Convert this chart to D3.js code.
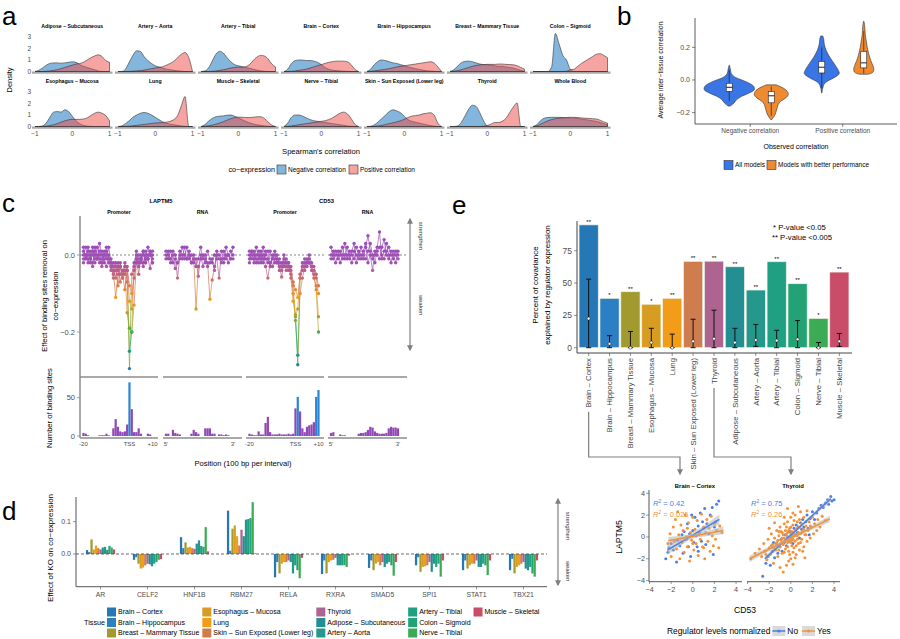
<!DOCTYPE html>
<html><head><meta charset="utf-8">
<script src="https://cdn.jsdelivr.net/npm/d3@7"></script>
<style>body{margin:0;background:#fff}svg{display:block}text{font-family:"Liberation Sans",Arial,Helvetica,sans-serif}</style>
</head><body><svg id="fig" width="900" height="639"></svg>
<script>
// ================= DATA =================
// Panel a: densities of Spearman's correlation
const aTissues = ["Adipose – Subcutaneous","Artery – Aorta","Artery – Tibial","Brain – Cortex","Brain – Hippocampus","Breast – Mammary Tissue","Colon – Sigmoid","Esophagus – Mucosa","Lung","Muscle – Skeletal","Nerve – Tibial","Skin – Sun Exposed (Lower leg)","Thyroid","Whole Blood"];
const densityGrid = [-1,-0.9,-0.8,-0.7,-0.6,-0.5,-0.4,-0.3,-0.2,-0.1,0,0.1,0.2,0.3,0.4,0.5,0.6,0.7,0.8,0.9,1];
const negDensity = [
 [0,0.1,0.3,0.55,0.7,0.75,0.75,0.72,0.75,0.8,0.85,0.8,0.6,0.45,0.35,0.25,0.15,0.05,0,0,0],
 [0,0,0.2,0.8,1.4,1.8,1.75,1.3,0.95,0.7,0.5,0.4,0.3,0.2,0.15,0.1,0.06,0.03,0,0,0],
 [0,0.05,0.3,0.9,1.5,1.75,1.6,1.2,0.85,0.6,0.5,0.42,0.35,0.28,0.2,0.12,0.06,0.02,0,0,0],
 [0,0.2,0.7,0.95,1.0,1.0,0.95,0.95,0.9,0.8,0.6,0.35,0.2,0.12,0.08,0.05,0.03,0.01,0,0,0],
 [0,0.2,0.6,0.9,1.0,0.95,0.85,0.75,0.7,0.6,0.5,0.4,0.32,0.25,0.18,0.12,0.07,0.04,0.02,0,0],
 [0,0.15,0.45,0.75,0.88,0.9,0.85,0.75,0.65,0.6,0.58,0.55,0.5,0.45,0.45,0.4,0.35,0.3,0.2,0.1,0],
 [0,0,0,0,0,0.4,3.3,2.4,1.4,1.0,0.2,0,0,0,0,0,0,0,0,0,0],
 [0,0,0.05,0.3,0.8,1.25,1.3,1.25,1.45,1.3,0.9,0.5,0.25,0.1,0.04,0.01,0,0,0,0,0],
 [0,0.05,0.25,0.5,0.8,1.0,1.15,1.22,1.15,1.0,0.8,0.6,0.4,0.28,0.2,0.15,0.1,0.05,0.02,0,0],
 [0,0.15,0.45,0.7,0.85,0.9,0.92,0.98,1.0,0.9,0.75,0.6,0.45,0.32,0.22,0.15,0.1,0.05,0.02,0,0],
 [0,0.3,0.8,1.0,1.0,0.9,0.75,0.6,0.5,0.45,0.4,0.35,0.3,0.25,0.2,0.15,0.1,0.05,0.02,0,0],
 [0,0.02,0.15,0.4,0.7,1.0,1.3,1.45,1.35,1.2,0.9,0.6,0.45,0.38,0.3,0.22,0.15,0.08,0.03,0,0],
 [0,0,0.05,0.35,0.9,1.5,1.85,1.75,1.2,0.5,0.05,0,0,0,0,0,0,0,0,0,0],
 [0,0.15,0.5,0.72,0.78,0.8,0.8,0.8,0.78,0.75,0.75,0.72,0.7,0.65,0.6,0.55,0.5,0.45,0.35,0.25,0.15]
];
const posDensity = [
 [0,0,0,0.02,0.05,0.1,0.15,0.25,0.35,0.45,0.55,0.65,0.7,0.8,1.0,1.2,1.35,1.45,1.3,0.95,0.8],
 [0,0,0,0.01,0.03,0.05,0.08,0.12,0.18,0.25,0.3,0.35,0.42,0.55,0.7,0.9,1.2,1.5,1.65,1.2,0],
 [0,0,0,0.02,0.05,0.1,0.15,0.22,0.3,0.35,0.38,0.38,0.42,0.6,0.95,1.25,1.4,1.35,1.1,0.65,0.4],
 [0,0,0.02,0.05,0.1,0.15,0.2,0.3,0.4,0.5,0.6,0.7,0.8,0.85,0.9,0.9,0.9,0.85,0.6,0.2,0],
 [0,0.02,0.06,0.1,0.15,0.2,0.25,0.32,0.4,0.45,0.5,0.55,0.6,0.65,0.7,0.75,0.8,0.85,0.75,0.4,0],
 [0,0.02,0.08,0.15,0.25,0.35,0.45,0.52,0.58,0.6,0.62,0.62,0.62,0.65,0.65,0.62,0.6,0.58,0.5,0.35,0.2],
 [0,0,0,0,0,0,0,0,0,0.02,0.15,0.2,0.45,0.7,0.9,1.1,1.3,1.5,1.55,1.4,1.2],
 [0,0,0.01,0.03,0.08,0.15,0.25,0.38,0.5,0.58,0.62,0.62,0.62,0.65,0.75,0.95,1.15,1.25,1.15,0.95,0.5],
 [0,0,0.01,0.03,0.06,0.1,0.14,0.18,0.22,0.27,0.3,0.32,0.35,0.38,0.45,0.6,0.95,1.8,2.6,0,0],
 [0,0.02,0.06,0.12,0.2,0.3,0.42,0.55,0.68,0.78,0.82,0.8,0.78,0.78,0.8,0.85,0.85,0.7,0.4,0.12,0],
 [0,0.01,0.05,0.1,0.15,0.2,0.25,0.3,0.35,0.4,0.45,0.5,0.6,0.75,0.95,1.15,1.25,1.1,0.7,0.2,0],
 [0,0,0.02,0.05,0.1,0.18,0.25,0.32,0.4,0.5,0.62,0.78,0.9,0.95,1.0,1.1,1.15,1.2,1.0,0.3,0],
 [0,0,0,0,0,0,0,0,0,0.02,0.08,0.2,0.35,0.35,0.45,0.7,1.2,1.7,2.05,0,0],
 [0,0.05,0.2,0.35,0.5,0.6,0.68,0.72,0.75,0.78,0.8,0.8,0.78,0.75,0.72,0.7,0.68,0.65,0.55,0.4,0.3]
];
const aTicksY = [0,1,2,3];
const aTicksX = [-1,0,1];

// Panel b: violins, [value, density]
const bCategories = ["Negative correlation","Positive correlation"];
const bGroups = ["All models","Models with better performance"];
const violinNegAll = [[0.09,0.02],[0.07,0.1],[0.04,0.2],[0.02,0.5],[0.0,1.25],[-0.02,2.0],[-0.04,2.45],[-0.06,2.5],[-0.08,2.0],[-0.10,1.25],[-0.12,0.75],[-0.14,0.5],[-0.16,0.1]];
const violinNegBetter = [[-0.03,0.5],[-0.05,1.2],[-0.07,1.6],[-0.09,1.7],[-0.11,1.45],[-0.13,0.95],[-0.15,0.7],[-0.17,0.6],[-0.19,0.5],[-0.21,0.4],[-0.23,0.2],[-0.245,0.02]];
const violinPosAll = [[0.27,0.1],[0.25,0.2],[0.22,0.25],[0.18,0.45],[0.14,0.8],[0.10,1.25],[0.06,1.65],[0.04,1.75],[0.02,1.4],[0.0,0.8],[-0.02,0.3],[-0.05,0.1],[-0.08,0.02]];
const violinPosBetter = [[0.36,0.02],[0.33,0.1],[0.28,0.15],[0.24,0.25],[0.20,0.35],[0.16,0.5],[0.12,0.7],[0.09,0.9],[0.07,1.0],[0.05,0.95],[0.04,0.7],[0.035,0.4]];
// [lower whisker, q1, median, q3, upper whisker]
const boxNegAll = [-0.13,-0.07,-0.045,-0.02,0.06];
const boxNegBetter = [-0.22,-0.14,-0.097,-0.07,-0.04];
const boxPosAll = [-0.05,0.043,0.078,0.114,0.2];
const boxPosBetter = [0.04,0.074,0.105,0.176,0.3];
const bTicks = [-0.2,0,0.2];

// Tissue palette (panels d, e)
const tissues = ["Brain – Cortex","Brain – Hippocampus","Breast – Mammary Tissue","Esophagus – Mucosa","Lung","Skin – Sun Exposed (Lower leg)","Thyroid","Adipose – Subcutaneous","Artery – Aorta","Artery – Tibial","Colon – Sigmoid","Nerve – Tibial","Muscle – Skeletal"];
const tissueColors = ["#2677b5","#2b7fc2","#a29a2e","#d69d20","#f29d1a","#cf7d4f","#ae6490","#238f92","#25978b","#20a083","#23a276","#3cab55","#c94d69"];

// Panel c
const promoterPos = [-20,-19,-18,-17,-16,-15,-14,-13,-12,-11,-10,-9,-8,-7,-6,-5,-4,-3,-2,-1,0,1,2,3,4,5,6,7,8,9,10];
const rnaPos = [1,2,3,4,5,6,7,8,9,10,11,12,13,14,15,16,17,18,19,20,21,22,23,24,25,26,27,28,29,30];
const laptm5PromoterLines = [
 [0.01,-0.01,0.02,0,-0.02,0.01,-0.01,0.03,0,-0.02,0.01,-0.01,-0.03,-0.05,-0.02,-0.04,-0.03,-0.06,-0.02,-0.04,-0.295,-0.05,-0.02,0,-0.03,-0.01,0.01,-0.02,0,0.01,-0.01],
 [-0.01,0,-0.02,0.01,0,-0.01,0.02,-0.01,-0.02,0,-0.01,0.02,-0.02,-0.03,-0.06,-0.02,-0.05,-0.04,-0.03,-0.07,-0.25,-0.2,-0.04,-0.01,-0.05,0,-0.02,0.01,-0.01,-0.035,0],
 [0,0.02,-0.01,-0.02,0.01,0,-0.01,0,0.01,-0.01,-0.03,0,-0.01,-0.04,-0.11,-0.05,-0.02,-0.06,-0.04,-0.15,-0.19,-0.2,-0.13,-0.02,-0.01,-0.02,0,-0.01,0.02,0,-0.02],
 [-0.02,0,0.01,-0.01,-0.03,0.02,0,-0.02,-0.01,0.01,0,-0.02,-0.04,-0.02,-0.03,-0.08,-0.03,-0.05,-0.09,-0.04,-0.12,-0.14,-0.03,0.01,-0.02,-0.01,-0.03,0,-0.01,0.01,-0.02],
 [0.02,-0.01,0,-0.01,0.02,-0.02,-0.01,0.01,-0.03,0,0.02,-0.01,-0.02,-0.06,-0.04,-0.03,-0.07,-0.04,-0.05,-0.03,-0.08,-0.1,-0.06,-0.02,0,-0.01,0.01,-0.02,-0.01,0,0.01]
];
const laptm5RnaLines = [
 [0,-0.01,0.01,-0.02,-0.01,-0.06,0,-0.01,0.02,-0.01,0,-0.02,-0.01,-0.14,-0.03,-0.01,0,-0.02,0.01,-0.01,-0.02,0,-0.01,-0.06,0.01,-0.01,0,-0.02,0.01,0],
 [-0.01,0.01,-0.02,0,-0.035,-0.02,0.01,0,-0.01,0.02,-0.01,0,-0.02,-0.01,-0.055,0,-0.03,-0.01,-0.02,-0.115,-0.065,-0.03,0,-0.01,-0.02,0.01,-0.01,0,-0.01,0.02],
 [0.01,0,-0.01,0.01,0,-0.02,-0.01,0.02,0,-0.01,0.01,-0.02,0,-0.03,-0.01,0.02,-0.01,0,-0.03,-0.02,-0.01,-0.04,0.01,0,-0.01,-0.02,0.02,0,-0.01,-0.01]
];
const cd53PromoterLines = [
 [0,-0.01,0.01,-0.02,0,-0.01,0.02,-0.03,-0.06,-0.02,-0.01,0,-0.02,-0.03,-0.057,-0.02,-0.04,-0.03,-0.05,-0.08,-0.16,-0.285,-0.06,-0.04,-0.02,-0.03,-0.02,-0.04,-0.05,-0.09,-0.2],
 [-0.01,0.01,-0.02,0,0.01,-0.02,0,-0.01,-0.02,0.01,-0.03,-0.01,0,-0.04,-0.02,-0.03,-0.01,-0.02,-0.04,-0.1,-0.17,-0.26,-0.1,-0.06,-0.03,-0.01,-0.02,-0.03,-0.06,-0.08,-0.16],
 [0.01,0,-0.01,0.02,-0.01,0,-0.02,0.01,-0.01,-0.03,0,-0.02,-0.01,-0.02,-0.04,-0.01,-0.03,-0.02,-0.06,-0.12,-0.155,-0.14,-0.06,-0.02,-0.04,-0.02,-0.01,-0.03,-0.04,-0.06,-0.1],
 [-0.02,0.01,0,-0.01,-0.02,0.01,-0.01,0,0.01,-0.02,-0.01,0.01,-0.02,-0.01,-0.03,0,-0.02,-0.04,-0.03,-0.07,-0.09,-0.11,-0.05,-0.03,-0.01,-0.02,0,-0.02,-0.03,-0.05,-0.08]
];
const cd53RnaLines = [
 [0.02,-0.01,0,0.01,-0.02,0,0.03,-0.01,0.01,0,-0.01,0.02,0,-0.01,0.01,0.03,-0.02,0,-0.04,0.01,0,-0.01,0.02,0.04,0,-0.01,0.01,0,-0.02,0.01],
 [0,0.01,-0.02,0,0.01,-0.01,0,0.02,-0.01,0.01,0.03,-0.02,0.01,0,-0.01,0.02,0.05,0.01,-0.01,0,0.02,0.06,-0.01,0.01,0.03,0,-0.02,0.01,0,-0.01],
 [-0.01,0,0.01,-0.01,0,0.02,-0.01,0,0,-0.02,0.01,0,-0.01,0.02,0,-0.01,0.01,0.03,0,-0.02,0.01,0.02,0,-0.01,0.01,0.02,0,-0.01,0.01,0]
];
const laptm5PromoterHist = [4,3,1,0,0,0,0,1,1,1,3,1,0,10,22,12,6,5,6,15,70,35,5,5,10,3,0,0,3,2,0];
const laptm5RnaHist = [3,3,0,8,4,3,2,0,0,0,0,3,8,5,3,0,0,10,10,10,3,3,0,2,2,1,2,1,0,0];
const cd53PromoterHist = [3,2,1,1,6,2,2,17,25,5,2,2,2,3,2,2,2,3,2,3,36,51,32,10,5,12,14,15,18,51,60];
const cd53RnaHist = [4,5,0,0,2,1,1,0,0,0,0,0,3,4,4,5,8,12,11,6,4,3,3,3,4,10,12,11,11,10];
const laptm5PromoterStrongBins = [0];
const cd53PromoterStrongBins = [1,9,10];
const cTicksY = [-0.2,0];
const cHistTicks = [0,50];

// Panel d
const dGenes = ["AR","CELF2","HNF1B","RBM27","RELA","RXRA","SMAD5","SPI1","STAT1","TBX21"];
const dEffects = [
 [0.012,0.006,0.045,0.014,0.026,0.018,0.014,0.02,0.022,0.013,0.025,0.02,0.014],
 [-0.018,-0.01,-0.03,-0.045,-0.042,-0.035,-0.03,-0.032,-0.038,-0.03,-0.025,-0.018,-0.016],
 [0.052,0.018,0.036,0.02,0.022,0.018,0.016,0.032,0.042,0.025,0.022,0.083,0.008],
 [0.134,0.01,0.078,0.088,0.055,0.026,0.075,0.055,0.106,0.108,0.111,0.16,0.002],
 [-0.072,-0.025,-0.06,-0.03,-0.025,-0.025,-0.02,-0.025,-0.06,-0.035,-0.05,-0.075,-0.012],
 [-0.062,-0.02,-0.06,-0.025,-0.02,-0.018,-0.012,-0.035,-0.035,-0.035,-0.035,-0.04,-0.005],
 [-0.043,-0.02,-0.05,-0.03,-0.025,-0.035,-0.025,-0.04,-0.03,-0.025,-0.035,-0.067,-0.025],
 [-0.035,-0.01,-0.055,-0.04,-0.038,-0.035,-0.025,-0.055,-0.03,-0.04,-0.03,-0.07,-0.02],
 [-0.05,-0.02,-0.045,-0.035,-0.03,-0.03,-0.02,-0.04,-0.04,-0.03,-0.035,-0.065,-0.02],
 [-0.05,-0.015,-0.06,-0.04,-0.035,-0.03,-0.025,-0.045,-0.05,-0.04,-0.06,-0.07,-0.02]
];
const dTicks = [0,0.1];

// Panel e
const ePercent = [95,38.2,43.3,33.6,38.2,66.8,66.9,62.6,44.6,66.5,49.5,22.7,58.5];
const eNullLow = [0,0,0,0,0,0,0,0,1,0,0,0,1];
const eNullHigh = [53,9.3,12.5,15,10.5,22,29,15,18,13.5,21,4,11];
const eNullMid = [22.5,3,0,4,0,5,7,4,6,5.5,6.5,0,5];
const eSignif = ["**","*","**","*","**","**","**","**","**","**","**","*","**"];
const eTicks = [0,25,50,75];
const scatterPanels = ["Brain – Cortex","Thyroid"];
const brainNo = [[-2.5,-2.0],[-2.3,-1.4],[-2.2,-1.0],[-2.0,-0.6],[-1.8,-1.2],[-1.5,-2.3],[-1.4,-0.3],[-1.2,-0.8],[-1.0,0.2],[-0.9,-1.5],[-0.8,0.5],[-0.6,-0.2],[-0.5,1.2],[-0.4,-0.9],[-0.3,0.3],[-0.2,-1.8],[0,0.6],[0.1,-0.5],[0.2,1.8],[0.3,0.1],[0.4,-0.9],[0.5,1.0],[0.6,0.4],[0.7,2.2],[0.8,-0.4],[0.9,1.4],[1.0,0.8],[1.1,2.6],[1.2,-0.7],[1.3,1.2],[1.5,0.3],[1.6,2.0],[1.8,2.7],[2.0,0.9],[2.2,3.0],[2.4,3.3],[1.9,-1.6],[2.1,1.4],[-0.1,2.0],[0.5,-1.3]];
const brainYes = [[-2.3,-0.6],[-2.1,0.3],[-2.0,-1.8],[-1.8,0.9],[-1.7,-0.4],[-1.6,1.6],[-1.5,-1.1],[-1.3,0.2],[-1.2,-2.0],[-1.1,1.1],[-1.0,-0.5],[-0.9,0.6],[-0.8,-1.4],[-0.7,2.0],[-0.6,0.0],[-0.5,-0.9],[-0.4,1.3],[-0.3,-2.2],[-0.2,0.4],[-0.1,-0.3],[0,1.8],[0.1,-1.2],[0.2,0.7],[0.3,-0.6],[0.4,1.5],[0.5,-1.7],[0.6,0.3],[0.7,-0.2],[0.8,2.1],[0.9,-0.9],[1.0,0.9],[1.1,-2.0],[1.2,0.4],[1.3,1.6],[1.4,-0.4],[1.5,0.8],[1.6,-1.3],[1.7,1.9],[1.8,0.1],[1.9,-0.8],[2.0,1.2],[2.1,-0.2],[2.2,0.6],[2.4,-1.0],[2.5,1.0],[2.7,0.4],[-1.4,2.3],[0.0,-0.6],[-0.5,0.8],[1.0,-1.0]];
const thyroidNo = [[-2.6,-3.6],[-2.3,-2.4],[-2.1,-1.8],[-1.9,-2.6],[-1.7,-1.3],[-1.5,-1.9],[-1.3,-0.7],[-1.2,-1.5],[-1.0,-0.9],[-0.9,-0.2],[-0.8,-1.3],[-0.6,-0.5],[-0.5,0.2],[-0.4,-0.8],[-0.3,0.0],[-0.2,-0.4],[-0.1,0.5],[0,-0.1],[0.1,0.3],[0.2,-0.6],[0.3,0.8],[0.4,0.2],[0.5,1.1],[0.6,0.4],[0.7,0.9],[0.8,-0.1],[0.9,1.3],[1.0,0.7],[1.1,1.6],[1.2,0.9],[1.4,1.4],[1.5,2.0],[1.6,0.8],[1.8,1.7],[2.0,2.3],[2.2,1.6],[2.4,2.2],[2.6,2.6],[2.8,2.9],[3.0,2.7],[3.2,3.1],[3.4,3.4],[3.5,3.0],[3.7,3.7],[3.8,3.3],[4.0,3.4],[-1.6,-0.5],[1.7,0.2]];
const thyroidYes = [[-3.7,-2.0],[-3.3,-1.5],[-2.9,-1.1],[-2.7,-1.8],[-2.5,-0.6],[-2.4,-1.3],[-2.2,-2.1],[-2.1,-0.2],[-2.0,-1.0],[-1.9,-1.6],[-1.8,0.3],[-1.7,-0.7],[-1.6,-2.4],[-1.5,-0.1],[-1.4,-1.2],[-1.3,0.6],[-1.3,-0.5],[-1.2,-1.8],[-1.1,0.1],[-1.0,-0.9],[-1.0,0.9],[-0.9,-0.3],[-0.8,-1.5],[-0.8,0.4],[-0.7,-0.7],[-0.6,1.2],[-0.6,-0.1],[-0.5,-1.1],[-0.5,0.6],[-0.4,-2.6],[-0.4,0.2],[-0.3,-0.5],[-0.3,1.4],[-0.2,0.0],[-0.2,-1.3],[-0.1,0.8],[-0.1,-0.4],[0,0.3],[0,-2.0],[0,1.8],[0.1,-0.8],[0.1,0.5],[0.2,-0.2],[0.2,1.1],[0.3,-1.0],[0.3,0.2],[0.4,2.0],[0.4,-0.4],[0.5,0.7],[0.5,-1.6],[0.6,0.1],[0.6,1.4],[0.7,-0.6],[0.8,0.9],[0.8,-1.2],[0.9,0.3],[0.9,2.3],[1.0,-0.2],[1.0,1.2],[1.1,0.6],[1.2,-0.9],[1.2,1.8],[1.3,0.2],[1.4,1.0],[1.5,-0.4],[1.5,2.4],[1.6,0.6],[1.7,1.4],[1.8,-0.1],[1.9,0.9],[2.0,1.8],[2.1,0.3],[2.2,1.2],[2.4,0.6],[2.5,1.6],[2.7,0.9],[2.9,1.9],[-0.7,-3.2],[-1.0,-2.8],[0.2,-2.5],[-2.0,0.8],[-0.3,2.6],[0.7,2.8],[1.3,-1.9],[-1.5,1.3],[3.2,1.5],
 [-1.2,-0.3],[-1.1,-1.2],[-0.9,0.5],[-0.8,-0.6],[-0.7,0.2],[-0.6,-1.4],[-0.5,-0.3],[-0.4,0.9],[-0.3,-0.9],[-0.2,0.6],[-0.1,-1.6],[0,-0.5],[0,0.9],[0.1,0.1],[0.2,-1.4],[0.3,1.5],[0.4,0.6],[0.5,-0.8],[0.6,-0.2],[0.7,0.4],[0.8,1.6],[0.9,-0.5],[1.0,0.4],[1.1,-1.3],[1.2,0.7],[1.4,0.2],[-1.4,-0.6],[-1.6,-1.0],[-1.8,-0.8],[-2.3,-1.6],[-0.2,-2.2],[0.4,-1.9],[-0.6,1.8],[0.2,2.2],[1.8,1.0],[-1.1,0.5],[0.6,0.8],[-0.3,0.4],[0.1,-0.3],[-0.8,-0.1]];
// fitted lines: [x0, y0, x1, y1, se at ends, se at middle]
const brainNoFit = [-2.35,-1.2,2.46,1.6,0.45,0.15];
const brainYesFit = [-2.26,-0.35,2.83,0.6,0.35,0.12];
const thyroidNoFit = [-2.4,-2.0,3.7,3.5,0.25,0.08];
const thyroidYesFit = [-3.8,-2.0,3.6,1.65,0.3,0.06];
const rSquared = [["0.42","0.026"],["0.75","0.26"]];
const scatterTicks = [-4,-2,0,2,4];

// ================= DRAWING =================
const svg = d3.select("#fig");
svg.append("rect").attr("width",900).attr("height",639).attr("fill","#fff");
const GREY = "#4d4d4d";
const fmt = d3.format("");
function T(g,x,y,s,size,o={}){
  const t=g.append("text").attr("x",x).attr("y",y).attr("font-size",size).attr("fill",o.fill||"#000").text(s);
  if(o.anchor)t.attr("text-anchor",o.anchor);
  if(o.bold)t.attr("font-weight","bold");
  if(o.dy)t.attr("dy",o.dy);
  if(o.rot!=null)t.attr("transform",`rotate(${o.rot},${x},${y})`);
  return t;
}
function L(g,x1,y1,x2,y2,stroke,w,dash){
  const l=g.append("line").attr("x1",x1).attr("y1",y1).attr("x2",x2).attr("y2",y2).attr("stroke",stroke).attr("stroke-width",w);
  if(dash)l.attr("stroke-dasharray",dash);
  return l;
}
const defs=svg.append("defs");
defs.append("marker").attr("id","arr").attr("viewBox","0 0 10 10").attr("refX",8).attr("refY",5)
  .attr("markerWidth",5).attr("markerHeight",5).attr("orient","auto-start-reverse")
  .append("path").attr("d","M0,0L10,5L0,10Z").attr("fill","#7f7f7f");

// panel letters
T(svg,2,25,"a",26); T(svg,617,25,"b",26); T(svg,2,212,"c",26); T(svg,2,520,"d",26); T(svg,452,214,"e",26);

// ---------- Panel a ----------
const gA=svg.append("g");
aTissues.forEach((name,i)=>{
  const col=i%7,row=Math.floor(i/7);
  const x=d3.scaleLinear().domain([-1,1]).range([35+83*col,109.5+83*col]);
  const base=row===0?71.5:126.5;
  const y=d3.scaleLinear().domain([0,3]).range([base,base-34.5]);
  L(gA,x(-1)-3,base+1.2,x(1)+3,base+1.2,"#a8a8a8",2.2);
  const area=d3.area().x((d,j)=>x(densityGrid[j])).y0(base).y1(d=>y(d)).curve(d3.curveMonotoneX);
  gA.append("path").attr("d",area(negDensity[i])).attr("fill","#1f78c0").attr("fill-opacity",0.55).attr("stroke","#333").attr("stroke-width",0.6);
  gA.append("path").attr("d",area(posDensity[i])).attr("fill","#ee4a44").attr("fill-opacity",0.5).attr("stroke","#333").attr("stroke-width",0.6);
  T(gA,x(0),base-45.5,name,5.2,{anchor:"middle",bold:true,dy:"0.35em"});
  if(col===0) aTicksY.forEach(v=>T(gA,31,y(v),fmt(v),6.5,{anchor:"end",fill:GREY,dy:"0.35em"}));
  if(row===1) aTicksX.forEach(v=>T(gA,x(v),134,fmt(v),6.5,{anchor:"middle",fill:GREY,dy:"0.35em"}));
});
T(gA,12,80,"Density",7.5,{anchor:"middle",rot:-90});
T(gA,321,151,"Spearman's correlation",7.6,{anchor:"middle",dy:"0.35em"});
T(gA,275,169.5,"co−expression",7.2,{anchor:"end",dy:"0.35em"});
gA.append("rect").attr("x",277).attr("y",165).attr("width",9).attr("height",9).attr("fill","#84b5dc").attr("stroke","#333").attr("stroke-width",0.6);
T(gA,288,169.5,"Negative correlation",6.5,{dy:"0.35em"});
gA.append("rect").attr("x",349).attr("y",165).attr("width",9).attr("height",9).attr("fill","#f6a4a1").attr("stroke","#333").attr("stroke-width",0.6);
T(gA,360,169.5,"Positive correlation",6.5,{dy:"0.35em"});

// ---------- Panel b ----------
const gB=svg.append("g");
const yB=d3.scaleLinear().domain([-0.27,0.38]).range([124,18]);
const xB=d3.scaleBand().domain(bCategories).range([704,889]).padding(0);
const wB=d3.scaleLinear().domain([0,1]).range([0,10]);
const bColors=["#3a75e6","#f08a30"];
L(gB,695,18,695,124,"#333",0.8); L(gB,695,124,897,124,"#333",0.8);
bTicks.forEach(v=>{L(gB,692,yB(v),695,yB(v),"#333",0.6);T(gB,690,yB(v),d3.format(".1f")(v).replace("-","−"),7,{anchor:"end",fill:GREY,dy:"0.35em"});});
bCategories.forEach(c=>{const cx=xB(c)+xB.bandwidth()/2;L(gB,cx,124,cx,127,"#333",0.6);T(gB,cx,131,c,6.5,{anchor:"middle",fill:GREY,dy:"0.35em"});});
const violins=[[violinNegAll,boxNegAll,0,0],[violinNegBetter,boxNegBetter,0,1],[violinPosAll,boxPosAll,1,0],[violinPosBetter,boxPosBetter,1,1]];
violins.forEach(([shape,box,ci,gi])=>{
  const cx=xB(bCategories[ci])+xB.bandwidth()/2+(gi===0?-21:21);
  const area=d3.area().y(d=>yB(d[0])).x0(d=>cx-wB(d[1])).x1(d=>cx+wB(d[1])).curve(d3.curveCatmullRom);
  gB.append("path").attr("d",area(shape)).attr("fill",bColors[gi]).attr("stroke","#333").attr("stroke-width",0.6);
  L(gB,cx,yB(box[0]),cx,yB(box[4]),"#222",0.7);
  gB.append("rect").attr("x",cx-3).attr("y",yB(box[3])).attr("width",6).attr("height",yB(box[1])-yB(box[3])).attr("fill","#fff").attr("stroke","#222").attr("stroke-width",0.6);
  L(gB,cx-3,yB(box[2]),cx+3,yB(box[2]),"#222",1);
});
T(gB,663,70,"Average inter−tissue correlation",6.9,{anchor:"middle",rot:-90});
T(gB,796,147,"Observed correlation",7,{anchor:"middle",dy:"0.35em"});
gB.append("rect").attr("x",724).attr("y",160.5).attr("width",9).attr("height",9).attr("fill",bColors[0]).attr("stroke","#333").attr("stroke-width",0.6);
T(gB,735,165,bGroups[0],6.5,{dy:"0.35em"});
gB.append("rect").attr("x",767).attr("y",160.5).attr("width",9).attr("height",9).attr("fill",bColors[1]).attr("stroke","#333").attr("stroke-width",0.6);
T(gB,778,165,bGroups[1],6.5,{dy:"0.35em"});

// ---------- Panel c ----------
const gC=svg.append("g");
const yC=d3.scaleLinear().domain([-0.31,0.1]).range([374.4,216.5]);
const yH=d3.scaleLinear().domain([0,75]).range([436,378.5]);
const cColor=d3.scaleLinear().domain([0.02,-0.02,-0.06,-0.11,-0.15,-0.2,-0.25,-0.3])
  .range(["#9a4fb8","#a250b0","#cc6b66","#f29b1e","#b3a42c","#3db050","#1c9a8c","#2677c0"]).clamp(true);
const cFacets=[
 {region:"Promoter",x0:80,x1:158,pos:promoterPos,lines:laptm5PromoterLines,hist:laptm5PromoterHist,strong:laptm5PromoterStrongBins,prom:true},
 {region:"RNA",x0:163,x1:242,pos:rnaPos,lines:laptm5RnaLines,hist:laptm5RnaHist,strong:[],prom:false},
 {region:"Promoter",x0:246,x1:324,pos:promoterPos,lines:cd53PromoterLines,hist:cd53PromoterHist,strong:cd53PromoterStrongBins,prom:true},
 {region:"RNA",x0:328,x1:407,pos:rnaPos,lines:cd53RnaLines,hist:cd53RnaHist,strong:[],prom:false}
];
cFacets.forEach(f=>{
  const x=d3.scaleLinear().domain(f.prom?[-21.5,12.4]:[-0.3,33.9]).range([f.x0,f.x1]);
  L(gC,f.x0,yC(0),f.x1,yC(0),"#333",0.6,"2,2");
  f.lines.forEach(vals=>{
    for(let j=0;j<vals.length-1;j++){
      L(gC,x(f.pos[j]),yC(vals[j]),x(f.pos[j+1]),yC(vals[j+1]),cColor((vals[j]+vals[j+1])/2),0.7);
    }
  });
  const pts=[];
  f.lines.forEach(vals=>vals.forEach((v,j)=>pts.push([f.pos[j],v])));
  pts.sort((a,b)=>b[1]-a[1]);
  gC.selectAll(null).data(pts).enter().append("circle").attr("cx",d=>x(d[0])).attr("cy",d=>yC(d[1])).attr("r",1.7).attr("fill",d=>cColor(d[1]));
  L(gC,f.x0,377,f.x1,377,"#8c8c8c",1.5);
  f.hist.forEach((c,j)=>{
    if(c<=0)return;
    const p=f.pos[j];
    gC.append("rect").attr("x",x(p)-1.1).attr("width",2.2).attr("y",yH(c)).attr("height",yH(0)-yH(c))
      .attr("fill",f.strong.includes(p)?"#2a86d0":"#9147b5");
  });
  L(gC,f.x0,438,f.x1,438,"#8c8c8c",1.5);
  const ticks=f.prom?[[-20,"-20"],[0,"TSS"],[10,"+10"]]:[[1,"5'"],[30,"3'"]];
  ticks.forEach(([p,s])=>T(gC,x(p),443.5,s,6,{anchor:"middle",fill:GREY,dy:"0.35em"}));
  T(gC,(f.x0+f.x1)/2,212,f.region,5.3,{anchor:"middle",bold:true,dy:"0.35em"});
});
T(gC,161,201,"LAPTM5",5.8,{anchor:"middle",bold:true,dy:"0.35em"});
T(gC,326.5,201,"CD53",5.8,{anchor:"middle",bold:true,dy:"0.35em"});
L(gC,80,216,80,438,"#8c8c8c",1.5);
cTicksY.forEach(v=>{L(gC,77,yC(v),80,yC(v),"#8c8c8c",0.8);T(gC,75,yC(v),d3.format(".1f")(v).replace("-","−"),7.5,{anchor:"end",fill:GREY,dy:"0.35em"});});
cHistTicks.forEach(v=>{L(gC,77,yH(v),80,yH(v),"#8c8c8c",0.8);T(gC,75,yH(v),fmt(v),7.5,{anchor:"end",fill:GREY,dy:"0.35em"});});
T(gC,47,296,"Effect of binding sites removal on",7.6,{anchor:"middle",rot:-90});
T(gC,58,296,"co−expression",7.6,{anchor:"middle",rot:-90});
T(gC,52,408,"Number of binding sites",7.6,{anchor:"middle",rot:-90});
T(gC,243,463,"Position (100 bp per interval)",7.6,{anchor:"middle",dy:"0.35em"});
L(gC,410,219,410,350,"#7f7f7f",1.2).attr("marker-start","url(#arr)").attr("marker-end","url(#arr)");
T(gC,419,236,"strengthen",6,{anchor:"middle",rot:90,fill:"#333"});
T(gC,419,305,"weaken",6,{anchor:"middle",rot:90,fill:"#333"});

// ---------- Panel d ----------
const gD=svg.append("g");
const yD=d3.scaleLinear().domain([-0.101,0.176]).range([586.7,497]);
const xD=d3.scaleBand().domain(dGenes).range([77,547]).paddingInner(0.38).paddingOuter(0.19);
const xDi=d3.scaleBand().domain(tissues).range([0,xD.bandwidth()]);
dGenes.forEach((g,gi)=>{
  dEffects[gi].forEach((v,ti)=>{
    gD.append("rect").attr("x",xD(g)+xDi(tissues[ti])).attr("width",xDi.bandwidth())
      .attr("y",yD(Math.max(0,v))).attr("height",Math.abs(yD(v)-yD(0))).attr("fill",tissueColors[ti]);
  });
  const cx=xD(g)+xD.bandwidth()/2;
  L(gD,cx,586.7,cx,589.5,"#555",0.6);
  T(gD,cx,595,g,6.8,{anchor:"middle",fill:GREY,dy:"0.35em"});
});
L(gD,76,yD(0),547,yD(0),"#444",0.8,"3,2");
L(gD,76,497,76,586.7,"#555",1); L(gD,76,586.7,547,586.7,"#555",1);
dTicks.forEach(v=>{L(gD,73,yD(v),76,yD(v),"#555",0.6);T(gD,71,yD(v),d3.format(".1f")(v),7,{anchor:"end",fill:GREY,dy:"0.35em"});});
T(gD,53,548,"Effect of KO on co−expression",8,{anchor:"middle",rot:-90});
L(gD,558,499,558,585,"#7f7f7f",1.2).attr("marker-start","url(#arr)").attr("marker-end","url(#arr)");
T(gD,566,526,"strengthen",6,{anchor:"middle",rot:90,fill:"#333"});
T(gD,566,571,"weaken",6,{anchor:"middle",rot:90,fill:"#333"});
T(gD,105,622.5,"Tissue",7.2,{anchor:"end",dy:"0.35em"});
const rowsY=[612,622.5,633];
let colX=107;
for(let c=0;c*3<tissues.length;c++){
  let maxW=0;
  for(let r=0;r<3;r++){
    const ti=c*3+r; if(ti>=tissues.length)break;
    gD.append("rect").attr("x",colX).attr("y",rowsY[r]-4.5).attr("width",9).attr("height",9).attr("fill",tissueColors[ti]);
    const t=T(gD,colX+11,rowsY[r],tissues[ti],7,{dy:"0.35em"});
    maxW=Math.max(maxW,t.node().getComputedTextLength());
  }
  colX+=11+maxW+3;
}

// ---------- Panel e ----------
const gE=svg.append("g");
const yE=d3.scaleLinear().domain([0,100]).range([347.7,218.4]);
const xE=d3.scaleBand().domain(tissues).range([578,850]).paddingInner(0.08).paddingOuter(0.05);
tissues.forEach((t,i)=>{
  const x0=xE(t),w=xE.bandwidth(),cx=x0+w/2;
  gE.append("rect").attr("x",x0).attr("y",yE(ePercent[i])).attr("width",w).attr("height",yE(0)-yE(ePercent[i]))
    .attr("fill",tissueColors[i]).attr("stroke","#eef3e6").attr("stroke-width",0.7);
  T(gE,cx,yE(ePercent[i])-1.2,eSignif[i],6,{anchor:"middle"});
  L(gE,cx,yE(eNullLow[i]),cx,yE(eNullHigh[i]),"#111",1);
  L(gE,cx-2.5,yE(eNullHigh[i]),cx+2.5,yE(eNullHigh[i]),"#111",1);
  L(gE,cx-2.5,yE(eNullLow[i]),cx+2.5,yE(eNullLow[i]),"#111",1);
  gE.append("circle").attr("cx",cx).attr("cy",yE(eNullMid[i])).attr("r",1.5).attr("fill","#fff").attr("stroke","#111").attr("stroke-width",0.5);
  L(gE,cx,353,cx,356,"#444",0.6);
  const lab=gE.append("text").attr("x",0).attr("y",0).attr("font-size",7.8).attr("fill","#444")
    .attr("text-anchor","end").attr("transform",`translate(${cx+2.8},358) rotate(-90)`).text(t);
  if(t==="Brain – Cortex"||t==="Thyroid"){
    const len=lab.node().getComputedTextLength();
    const target=t==="Brain – Cortex"?680:791;
    gE.append("path").attr("d",`M${cx},${358+len+4}V457H${target}V474`).attr("fill","none").attr("stroke","#7f7f7f").attr("stroke-width",1.2).attr("marker-end","url(#arr)");
  }
});
L(gE,577,221,577,353,"#444",1); L(gE,577,353,852,353,"#444",1);
eTicks.forEach(v=>{L(gE,574,yE(v),577,yE(v),"#444",0.6);T(gE,572,yE(v),fmt(v),8.5,{anchor:"end",fill:GREY,dy:"0.35em"});});
T(gE,538,285,"Percent of covariance",8,{anchor:"middle",rot:-90});
T(gE,550,285,"explained by regulator expression",8,{anchor:"middle",rot:-90});
T(gE,773,227,"* P-value <0.05",7.7,{dy:"0.35em"});
T(gE,772,237,"** P-value <0.005",7.7,{dy:"0.35em"});

// scatter panels
const gS=svg.append("g");
const yS=d3.scaleLinear().domain([-4.1,4.3]).range([581.7,490]);
const sBlue="#4a7ee8",sOrange="#f39238";
const scatterData=[[brainNo,brainYes,brainNoFit,brainYesFit],[thyroidNo,thyroidYes,thyroidNoFit,thyroidYesFit]];
scatterPanels.forEach((name,pi)=>{
  const x0=pi===0?649:747;
  const xS=d3.scaleLinear().domain([-4.05,4.55]).range([x0,x0+93]);
  const [no,yes,fitNo,fitYes]=scatterData[pi];
  gS.selectAll(null).data(no).enter().append("circle").attr("cx",d=>xS(d[0])).attr("cy",d=>yS(d[1])).attr("r",1.5).attr("fill",sBlue);
  gS.selectAll(null).data(yes).enter().append("circle").attr("cx",d=>xS(d[0])).attr("cy",d=>yS(d[1])).attr("r",1.5).attr("fill",sOrange);
  [[fitNo,sBlue],[fitYes,sOrange]].forEach(([f,col])=>{
    const xm=(f[0]+f[2])/2,ym=(f[1]+f[3])/2;
    const band=[[f[0],f[1],f[4]],[xm,ym,f[5]],[f[2],f[3],f[4]]];
    const ar=d3.area().x(d=>xS(d[0])).y0(d=>yS(d[1]-d[2])).y1(d=>yS(d[1]+d[2])).curve(d3.curveBasis);
    gS.append("path").attr("d",ar(band)).attr("fill","#b3b3b3").attr("fill-opacity",0.55);
    L(gS,xS(f[0]),yS(f[1]),xS(f[2]),yS(f[3]),col,1.5);
  });
  L(gS,x0,581.7,x0+93,581.7,"#555",1);
  scatterTicks.forEach(v=>{L(gS,xS(v),581.7,xS(v),584,"#555",0.6);T(gS,xS(v),589,fmt(v),7.2,{anchor:"middle",fill:GREY,dy:"0.35em"});});
  T(gS,x0+46,486,name,5.9,{anchor:"middle",bold:true,dy:"0.35em"});
  [[rSquared[pi][0],sBlue,503],[rSquared[pi][1],sOrange,514]].forEach(([r,col,yy])=>{
    const t=gS.append("text").attr("x",x0+4).attr("y",yy).attr("dy","0.35em").attr("font-size",7.5).attr("fill",col);
    t.append("tspan").attr("font-style","italic").text("R");
    t.append("tspan").attr("font-size",5).attr("dy","-0.5em").text("2");
    t.append("tspan").attr("dy","0.35em").text(" = "+r);
  });
});
L(gS,649,490,649,581.7,"#555",1);
scatterTicks.forEach(v=>{L(gS,646,yS(v),649,yS(v),"#555",0.6);T(gS,645,yS(v),fmt(v),7.2,{anchor:"end",fill:GREY,dy:"0.35em"});});
T(gS,622,537,"LAPTM5",8.6,{anchor:"middle",rot:-90});
T(gS,745,610,"CD53",8.6,{anchor:"middle",dy:"0.35em"});
const legT=T(gS,667,631,"Regulator levels normalized",8.4,{dy:"0.35em"});
let kx=667+legT.node().getComputedTextLength()+2;
[[sBlue,"No"],[sOrange,"Yes"]].forEach(([col,lab])=>{
  gS.append("rect").attr("x",kx).attr("y",626).attr("width",13).attr("height",10).attr("fill","#d9d9d9");
  L(gS,kx,631,kx+13,631,col,1.5);
  gS.append("circle").attr("cx",kx+6.5).attr("cy",631).attr("r",1.6).attr("fill",col);
  const t=T(gS,kx+15,631,lab,8.4,{dy:"0.35em"});
  kx+=15+t.node().getComputedTextLength()+4;
});
</script></body></html>
